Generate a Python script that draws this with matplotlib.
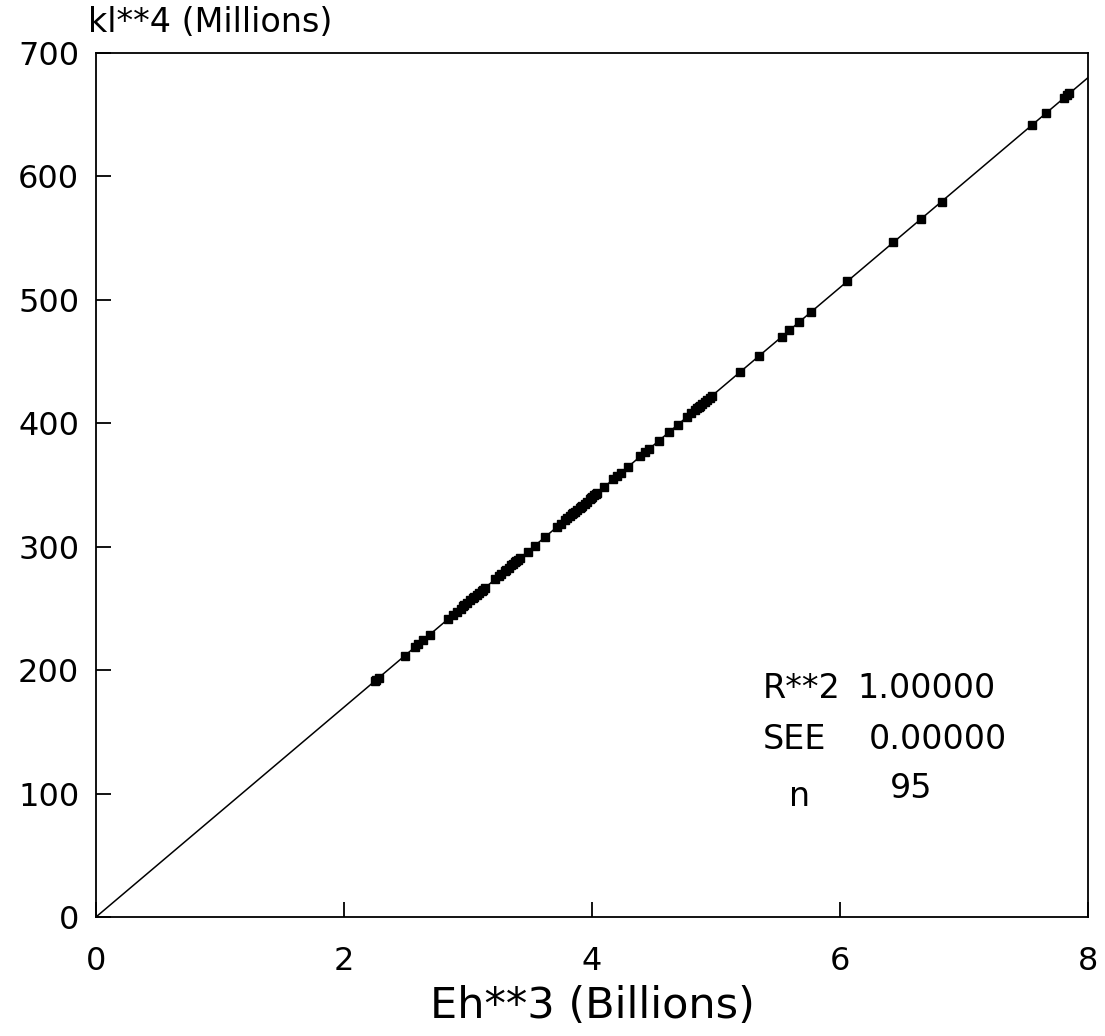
#regression plot of kl**4 against Eh**3 with fit statistics

import numpy as np
import matplotlib
matplotlib.use('Agg')
import matplotlib.pyplot as plt

#data: Eh**3 in billions, kl**4 in millions
eh3=[2.25,2.26,2.28,2.49,2.57,2.60,2.64,2.69,2.84,2.88,2.91,2.94,2.96,2.97,2.99,3.02,3.04,3.05,3.07,3.09,
     3.11,3.12,3.14,3.22,3.25,3.27,3.30,3.31,3.33,3.35,3.36,3.38,3.39,3.40,3.42,3.48,3.54,3.62,3.72,3.75,
     3.78,3.80,3.82,3.84,3.85,3.86,3.88,3.90,3.91,3.92,3.94,3.96,3.98,3.99,4.00,4.02,4.03,4.04,4.10,4.17,
     4.20,4.23,4.29,4.39,4.43,4.46,4.54,4.62,4.69,4.77,4.80,4.83,4.85,4.86,4.87,4.89,4.91,4.93,4.95,4.97,
     5.19,5.35,5.53,5.59,5.67,5.77,6.06,6.43,6.65,6.82,7.55,7.66,7.81,7.83,7.85]
kl4=[191.3,192.1,193.8,211.7,218.5,221.0,224.4,228.7,241.4,244.8,247.4,249.9,251.6,252.5,254.2,256.7,258.4,259.3,261.0,262.7,
     264.4,265.2,266.9,273.7,276.3,278.0,280.5,281.4,283.1,284.8,285.6,287.3,288.2,289.0,290.7,295.8,300.9,307.7,316.2,318.8,
     321.3,323.0,324.7,326.4,327.3,328.1,329.8,331.5,332.4,333.2,334.9,336.6,338.3,339.2,340.0,341.7,342.6,343.4,348.5,354.5,
     357.0,359.6,364.7,373.2,376.6,379.1,385.9,392.7,398.7,405.5,408.0,410.6,412.3,413.1,414.0,415.7,417.4,419.1,420.8,422.5,
     441.2,454.8,470.1,475.2,482.0,490.5,515.1,546.6,565.3,579.7,641.8,651.1,663.9,665.6,667.3]

x_ticks=[0,2,4,6,8]
y_ticks=[0,100,200,300,400,500,600,700]
stat_names=['R**2','SEE','n']
stat_values=['1.00000','0.00000','95']

fig=plt.figure(figsize=(11.05,10.36),dpi=100)
ax=fig.add_axes([0.0869,0.1149,0.8977,0.8339])

#regression line over the full x range
coef=np.polyfit(eh3,kl4,1)
x_line=np.array([0.,8.])
ax.plot(x_line,np.polyval(coef,x_line),color='k',linewidth=1.1,zorder=2)
ax.plot(eh3,kl4,'s',color='k',markersize=6,zorder=3)

ax.set_xlim(0,8)
ax.set_ylim(0,700)
ax.set_xticks(x_ticks)
ax.set_yticks(y_ticks)
ax.tick_params(axis='both',direction='in',length=11,width=1.3,labelsize=23)
ax.tick_params(axis='x',pad=21)
ax.tick_params(axis='y',pad=12)
for spine in ax.spines.values():
    spine.set_linewidth(1.3)

ax.set_xlabel('Eh**3 (Billions)',fontsize=31,labelpad=6)
fig.text(0.0796,0.978,'kl**4 (Millions)',fontsize=24,ha='left',va='center')

#fit statistics block (positions in figure fractions)
name_x=[0.690,0.690,0.724]
name_ha=['left','left','center']
name_y=[0.335,0.286,0.231]
value_x=[0.776,0.786,0.805]
value_y=[0.335,0.286,0.239]
for name,nx,ha,ny in zip(stat_names,name_x,name_ha,name_y):
    fig.text(nx,ny,name,fontsize=24,ha=ha,va='center')
for value,vx,vy in zip(stat_values,value_x,value_y):
    fig.text(vx,vy,value,fontsize=24,ha='left',va='center')

fig.savefig('out.png',dpi=100)
